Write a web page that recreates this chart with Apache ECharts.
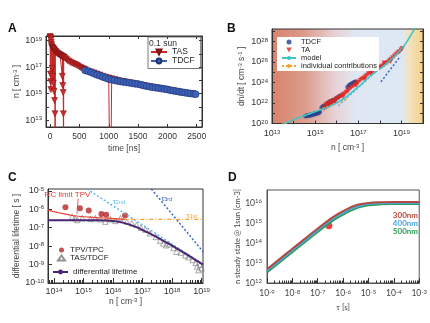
<!DOCTYPE html>
<html><head><meta charset="utf-8">
<script src="https://cdn.jsdelivr.net/npm/echarts@6/dist/echarts.min.js"></script>
<style>html,body{margin:0;padding:0;background:#fff}#c{width:430px;height:323px}</style>
</head><body><div id="c"></div>
<script>
// ================= Panel A : n vs time =================
const tasTime = [0,3,5,7,9,11,13,15,18,22,26,30,33,36,40,44,48,52,56,60,64,68,72,76,80,83,86,89,95,100,110,120,130,140,150,160,170,180,190,200,204,208,212,216,220,223,226,229,232,240,260,280,300,325,350,375,400,425,450,475,500,525,550,575,600,650,700,750,800,850,900,950,1000,1025,1050,1100,1150,1200,1250,1300,1350,1400,1450,1500,1550,1600,1650,1700,1750,1800,1850,1900,1950,2000,2050,2100,2150,2200,2250,2300,2350,2400];
const tasN = [2e19,1.8e19,3e16,1.6e19,8e15,1.3e19,2e15,1.1e19,7e18,5e18,4e18,3.2e18,8e16,3e18,2.8e18,2e16,2.6e18,2.4e18,6e15,2.2e18,2.1e18,1.5e15,1.9e18,3e14,1.7e18,3e13,1e5,1.5e18,1.4e18,1.3e18,1.2e18,1.1e18,1e18,9.5e17,9e17,8.5e17,8e17,7.5e17,7e17,6.5e17,6.2e17,2e16,6e17,4e15,5.8e17,1.2e15,3e13,1e5,5.5e17,5.2e17,4.5e17,3.7e17,3e17,2.6e17,2.2e17,1.95e17,1.75e17,1.55e17,1.4e17,1.2e17,1e17,8.8e16,7.8e16,7e16,6.3e16,5e16,4.3e16,3.6e16,3e16,2.5e16,2e16,1.7e16,1.5e16,1e5,1.3e16,1.15e16,1e16,9e15,8e15,7.2e15,6.6e15,6e15,5.3e15,4.8e15,4.4e15,4e15,3.6e15,3.3e15,3e15,2.7e15,2.5e15,2.3e15,2.1e15,1.9e15,1.75e15,1.6e15,1.45e15,1.2e15,1.2e15,1.1e15,1e15,9.5e14];
const tdcfTime = [600,650,700,750,800,850,900,950,1000,1050,1100,1150,1200,1250,1300,1350,1400,1450,1500,1550,1600,1650,1700,1750,1800,1850,1900,1950,2000,2050,2100,2150,2200,2250,2300,2350,2400,2450,2480];
const tdcfN = [5.6e16,4.8e16,4e16,3.2e16,2.6e16,2.2e16,1.8e16,1.5e16,1.25e16,1.1e16,1e16,9e15,8.3e15,7.6e15,7e15,6.5e15,6e15,5.5e15,5.2e15,4.6e15,4e15,3.6e15,3.3e15,3e15,2.8e15,2.6e15,2.4e15,2.2e15,2.05e15,1.8e15,1.66e15,1.5e15,1.4e15,1.28e15,1.17e15,1.08e15,1e15,9.5e14,9e14];
const timeTicks = [0,500,1000,1500,2000,2500];
const aDecades = [1e13,1e14,1e15,1e16,1e17,1e18,1e19];
const aLabels = [1e13,1e15,1e17,1e19];

// ================= Panel B : dn/dt vs n  ([log10 n, log10 dn/dt]) =================
const bTdcfLog = [[14.55,20.7],[14.62,20.8],[14.68,20.72],[14.74,20.85],[14.8,20.78],[14.86,20.92],[14.92,20.85],[14.98,21.0],[15.04,20.92],[15.1,21.08],[15.16,21.0],[15.22,21.15],[15.3,21.55],[15.38,21.7],[15.45,21.62],[15.52,21.85],[15.58,21.95],[15.64,22.1],[15.7,21.98],[15.76,22.2],[15.82,22.3],[15.9,22.25],[15.98,22.45],[16.06,22.55],[16.15,22.7],[16.5,23.55],[16.58,23.75],[16.66,23.85],[16.74,23.95],[16.82,24.05],[16.9,24.1]];
const bTaLog = [[15.42,21.45],[15.48,21.8],[15.52,21.6],[15.58,21.95],[15.62,21.7],[15.68,21.9],[15.72,22.15],[15.78,21.95],[15.84,22.2],[15.9,22.05],[15.96,22.35],[16.04,22.45],[16.12,22.55],[16.2,22.65],[16.28,22.8],[16.36,22.9],[16.44,23.05],[16.52,23.15],[16.6,23.35],[16.68,23.5],[16.76,23.6],[16.84,23.75],[16.92,23.9],[17.0,24.0],[17.08,24.2],[17.16,24.3],[17.24,24.4],[17.32,24.55],[17.4,24.7],[17.48,24.85],[17.56,24.95],[17.64,25.05],[17.72,25.15],[17.8,25.25],[17.88,25.3],[17.96,25.45],[18.04,25.5],[18.12,25.6],[18.2,25.72],[18.28,25.85],[18.36,25.95],[18.44,26.1],[18.52,26.25],[18.6,26.4],[18.68,26.58],[18.76,26.75],[18.84,26.9],[18.92,27.0],[18.98,27.15],[19.04,27.3],[17.3,24.3],[17.6,24.8],[18.2,25.9],[18.5,26.05],[16.3,22.6],[16.9,23.7]];
const bModelLog = [[13.55,19.95],[14.0,20.35],[14.4,20.7],[14.8,21.0],[15.2,21.3],[15.6,21.6],[16.0,22.0],[16.4,22.55],[16.8,23.2],[17.15,23.85],[17.6,24.7],[18.08,25.45],[18.5,26.2],[18.84,26.9],[19.2,27.8],[19.55,29.0],[19.7,29.5]];
const bFirstLog = [[13.45,19.9],[16.5,22.4]];
const bSecondLog = [[16.07,21.72],[17.9,25.2]];
const bThirdLog = [[18.05,24.05],[18.95,26.55]];
const bXDecades = [1e13,1e14,1e15,1e16,1e17,1e18,1e19,1e20];
const bXLabels = [1e13,1e15,1e17,1e19];
const bYDecades = [1e20,1e21,1e22,1e23,1e24,1e25,1e26,1e27,1e28,1e29];
const bYLabels = [1e20,1e22,1e24,1e26,1e28];

// ================= Panel C : differential lifetime vs n ([log10 n, log10 tau]) =================
const cTau2Log = [[15.12,-4.9],[19.05,-8.98]];
const cTau3Log = [[17.3,-4.9],[19.05,-8.3]];
const cTau1Log = [[15.4,-6.55],[19.05,-6.55]];
const cDiffLog = [[13.8,-6.6],[15.5,-6.6],[16.0,-6.63],[16.4,-6.75],[16.8,-6.97],[17.1,-7.2],[17.5,-7.52],[18.0,-7.97],[18.5,-8.45],[19.05,-9.0]];
const cRcLog = [[13.8,-6.05],[14.2,-6.2],[14.67,-6.35],[15.2,-6.43],[15.8,-6.48],[16.4,-6.55]];
const cTpvLog = [[14.39,-5.89],[14.88,-5.94],[15.18,-6.07],[15.61,-6.25],[15.77,-6.3],[16.41,-6.34]];
const cTasLog = [[14.62,-6.4],[14.71,-6.48],[14.79,-6.58],[14.96,-6.48],[15.24,-6.52],[15.4,-6.48],[15.57,-6.54],[15.74,-6.67],[15.91,-6.54],[16.08,-6.63],[16.25,-6.48],[16.47,-6.67],[16.64,-6.76],[16.8,-6.85],[16.95,-7.0],[17.1,-7.1],[17.25,-7.3],[17.45,-7.5],[17.6,-7.7],[17.7,-7.85],[17.8,-7.95],[17.9,-7.9],[18.05,-8.1],[18.15,-8.3],[18.3,-8.35],[18.45,-8.5],[18.55,-8.6],[18.7,-8.75],[18.8,-8.9],[18.85,-9.1],[18.95,-9.0],[19.0,-9.2],[18.9,-9.3]];
const cXLabels = [1e14,1e15,1e16,1e17,1e18,1e19];
const cYLabels = [1e-10,1e-9,1e-8,1e-7,1e-6,1e-5];

// ================= Panel D : steady-state n vs tau ([log10 tau, log10 n]) =================
const d300Log = [[-9,12.69],[-8,13.71],[-7,14.72],[-6.5,15.2],[-6.2,15.45],[-5.9,15.65],[-5.6,15.83],[-5.3,15.94],[-5.0,16.0],[-4.5,16.03],[-4,16.04],[-3,16.04]];
const d400Log = [[-9,12.61],[-8,13.63],[-7,14.64],[-6.5,15.12],[-6.2,15.37],[-5.9,15.57],[-5.6,15.75],[-5.3,15.87],[-5.0,15.94],[-4.5,15.98],[-4,15.99],[-3,15.99]];
const d500Log = [[-9,12.52],[-8,13.54],[-7,14.55],[-6.5,15.03],[-6.2,15.28],[-5.9,15.48],[-5.6,15.66],[-5.3,15.8],[-5.0,15.88],[-4.5,15.93],[-4,15.95],[-3,15.95]];
const dPointLog = [[-6.56,14.86]];
const dXLabels = [1e-9,1e-8,1e-7,1e-6,1e-5,1e-4,1e-3];
const dYLabels = [1e12,1e13,1e14,1e15,1e16];

// ---------- helpers ----------
const P = a => a.map(([x, y]) => [Math.pow(10, x), Math.pow(10, y)]);
const zip = (a, b) => a.map((v, i) => [v, b[i]]);
const minorTicks = (k0, k1, lo, hi) => { const r = []; for (let k = k0; k <= k1; k++) for (let m = 2; m <= 9; m++) { const v = m * Math.pow(10, k); if (v > lo && v < hi) r.push(v); } return r; };
const FONT = 'Liberation Sans';
const DOWN = 'path://M0,0 L10,0 L5,9 Z';
const supLabel = v => '{b|10}{s|' + Math.round(Math.log10(v)) + '}';
const rich = (fs, fam, col) => ({ b: { fontSize: fs, fontFamily: fam, color: col || '#333' }, s: { fontSize: Math.round(fs * 0.68), fontFamily: fam, color: col || '#333', verticalAlign: 'top' } });
const nameRich = (fs) => ({ s: { fontSize: Math.round(fs * 0.7), fontFamily: FONT, color: '#444', verticalAlign: 'top' } });
const line = { show: true, onZero: false, lineStyle: { color: '#333', width: 1 } };

const chart = echarts.init(document.getElementById('c'), null, { renderer: 'canvas' });

const gradB = new echarts.graphic.LinearGradient(0, 0, 1, 0, [
  { offset: 0, color: '#d9826c' }, { offset: 0.22, color: '#dc9c8c' }, { offset: 0.42, color: '#e7d2d6' },
  { offset: 0.55, color: '#dfe7f2' }, { offset: 0.86, color: '#dde8f4' }, { offset: 0.9, color: '#f1e3c4' }, { offset: 1, color: '#f6d184' }]);

const option = {
  animation: false,
  textStyle: { fontFamily: FONT },
  title: [
    { text: 'A', left: 3, top: 18, textStyle: { fontSize: 12, fontWeight: 'bold', color: '#111' } },
    { text: 'B', left: 222, top: 18, textStyle: { fontSize: 12, fontWeight: 'bold', color: '#111' } },
    { text: 'C', left: 3, top: 167, textStyle: { fontSize: 12, fontWeight: 'bold', color: '#111' } },
    { text: 'D', left: 223, top: 167, textStyle: { fontSize: 12, fontWeight: 'bold', color: '#111' } },
    { text: '0.1 sun', left: 149, top: 39, padding: 0, textStyle: { fontSize: 8.5, fontWeight: 'normal', color: '#333' } }
  ],
  grid: [
    { left: 46, top: 36, width: 156, height: 91, show: true, borderColor: '#333', borderWidth: 1 },
    { left: 272, top: 29, width: 151, height: 94.5, show: true, borderColor: '#333', borderWidth: 1, backgroundColor: gradB },
    { left: 48, top: 189, width: 155, height: 94, show: true, borderColor: '#333', borderWidth: 1 },
    { left: 267, top: 190, width: 155, height: 93, show: true, borderColor: '#555', borderWidth: 1 }
  ],
  legend: [
    { data: ['TAS', 'TDCF'], left: 148, top: 37, orient: 'vertical', padding: [10.5, 6, 3, 2], itemGap: 0, itemWidth: 16, itemHeight: 6,
      borderColor: '#555', borderWidth: 0.8, textStyle: { fontSize: 8.5, lineHeight: 8.5, color: '#222' } },
    { data: ['TDCF ', 'TA', 'model', 'individual contributions'], left: 277, top: 37, orient: 'vertical', padding: [1, 2, 1, 4], itemGap: 0,
      itemWidth: 14, itemHeight: 5, backgroundColor: '#fff', textStyle: { fontSize: 7.5, lineHeight: 7, color: '#222' } },
    { data: ['TPV/TPC', 'TAS/TDCF'], left: 57, top: 246, orient: 'vertical', itemGap: 0, itemWidth: 7, itemHeight: 5, padding: 0,
      textStyle: { fontSize: 8, lineHeight: 7.5, color: '#222' } },
    { data: ['differential lifetime'], left: 52, top: 268, itemWidth: 15, itemHeight: 6, padding: 0, textStyle: { fontSize: 8, color: '#222' } },
    { data: [{ name: '300nm', textStyle: { color: '#b44a3f' } }, { name: '400nm', textStyle: { color: '#4aa6e2' } }, { name: '500nm', textStyle: { color: '#2c9c55' } }],
      right: 12, top: 211, orient: 'vertical', itemGap: 0, itemWidth: 0, itemHeight: 0, padding: 0,
      textStyle: { fontSize: 8, lineHeight: 7.6, fontWeight: 'bold', fontFamily: 'Lato' } }
  ],
  xAxis: [
    // 0 A bottom
    { gridIndex: 0, type: 'value', min: -70, max: 2590, position: 'bottom', axisLine: line, splitLine: { show: false },
      axisTick: { inside: true, length: 3, customValues: timeTicks, lineStyle: { color: '#333' } },
      axisLabel: { customValues: timeTicks, formatter: v => String(v), fontSize: 8.5, color: '#333', margin: 5 },
      name: 'time [ns]', nameLocation: 'middle', nameGap: 17, nameTextStyle: { fontSize: 8.5, color: '#444' } },
    // 1 A top
    { gridIndex: 0, type: 'value', min: -70, max: 2590, position: 'top', axisLine: line, splitLine: { show: false },
      axisTick: { inside: true, length: 3, customValues: timeTicks, lineStyle: { color: '#333' } }, axisLabel: { show: false } },
    // 2 B bottom
    { gridIndex: 1, type: 'log', min: 1e13, max: 1e20, position: 'bottom', axisLine: line, splitLine: { show: false },
      axisTick: { inside: true, length: 3, customValues: bXDecades, lineStyle: { color: '#333' } },
      axisLabel: { customValues: bXLabels, formatter: supLabel, rich: rich(9, FONT), margin: 6 },
      name: 'n [ cm{s|-3} ]', nameLocation: 'middle', nameGap: 20, nameTextStyle: { fontSize: 8.5, color: '#444', rich: nameRich(8.5) } },
    // 3 C bottom main
    { gridIndex: 2, type: 'log', min: 6.3e13, max: 1.12e19, position: 'bottom', axisLine: line, splitLine: { show: false },
      axisTick: { inside: true, length: 5, customValues: cXLabels, lineStyle: { color: '#333' } },
      axisLabel: { customValues: cXLabels, formatter: supLabel, rich: rich(9, FONT), margin: 4 },
      name: 'n [ cm{s|-3} ]', nameLocation: 'middle', nameGap: 12, nameTextStyle: { fontSize: 8.5, color: '#444', rich: nameRich(8.5) } },
    // 4 C bottom minor
    { gridIndex: 2, type: 'log', min: 6.3e13, max: 1.12e19, position: 'bottom', axisLine: { show: false, onZero: false }, splitLine: { show: false },
      axisTick: { inside: true, length: 3, customValues: minorTicks(13, 18, 6.3e13, 1.12e19), lineStyle: { color: '#333' } }, axisLabel: { show: false } },
    // 5 D bottom main
    { gridIndex: 3, type: 'log', min: 1e-9, max: 1e-3, position: 'bottom', axisLine: { show: true, onZero: false, lineStyle: { color: '#555' } }, splitLine: { show: false },
      axisTick: { inside: true, length: 5, customValues: dXLabels, lineStyle: { color: '#333' } },
      axisLabel: { customValues: dXLabels, formatter: supLabel, rich: rich(8.5, 'Lato', '#444'), margin: 6 },
      name: 'τ [s]', nameLocation: 'middle', nameGap: 20, nameTextStyle: { fontSize: 8, color: '#444', fontFamily: 'Lato' } },
    // 6 D bottom minor
    { gridIndex: 3, type: 'log', min: 1e-9, max: 1e-3, position: 'bottom', axisLine: { show: false, onZero: false }, splitLine: { show: false },
      axisTick: { inside: true, length: 2.5, customValues: minorTicks(-9, -4, 1e-9, 1e-3), lineStyle: { color: '#333' } }, axisLabel: { show: false } }
  ],
  yAxis: [
    // 0 A left
    { gridIndex: 0, type: 'log', min: 3e12, max: 2.2e19, position: 'left', axisLine: line, splitLine: { show: false },
      axisTick: { inside: true, length: 3, customValues: aDecades, lineStyle: { color: '#333' } },
      axisLabel: { customValues: aLabels, formatter: supLabel, rich: rich(9, FONT), margin: 4 },
      name: 'n [ cm{s|-3} ]', nameLocation: 'middle', nameGap: 23, nameTextStyle: { fontSize: 8.5, color: '#444', rich: nameRich(8.5) } },
    // 1 A right
    { gridIndex: 0, type: 'log', min: 3e12, max: 2.2e19, position: 'right', axisLine: line, splitLine: { show: false },
      axisTick: { inside: true, length: 3, customValues: aDecades, lineStyle: { color: '#333' } }, axisLabel: { show: false } },
    // 2 B left
    { gridIndex: 1, type: 'log', min: 1e20, max: 1.6e29, position: 'left', axisLine: line, splitLine: { show: false },
      axisTick: { inside: true, length: 3, customValues: bYDecades, lineStyle: { color: '#333' } },
      axisLabel: { customValues: bYLabels, formatter: supLabel, rich: rich(9, FONT), margin: 4 },
      name: 'dn/dt [ cm{s|-3} s{s|-1} ]', nameLocation: 'middle', nameGap: 26, nameTextStyle: { fontSize: 8.5, color: '#444', rich: nameRich(8.5) } },
    // 3 B right
    { gridIndex: 1, type: 'log', min: 1e20, max: 1.6e29, position: 'right', axisLine: line, splitLine: { show: false },
      axisTick: { inside: true, length: 3, customValues: bYDecades, lineStyle: { color: '#333' } }, axisLabel: { show: false } },
    // 4 C left
    { gridIndex: 2, type: 'log', min: 1e-10, max: 1.26e-5, position: 'left', axisLine: line, splitLine: { show: false },
      axisTick: { inside: true, length: 4, customValues: cYLabels, lineStyle: { color: '#333' } },
      axisLabel: { customValues: cYLabels, formatter: supLabel, rich: rich(9, FONT), margin: 4 },
      name: 'differential lifetime [ s ]', nameLocation: 'middle', nameGap: 23, nameTextStyle: { fontSize: 8.5, color: '#444' } },
    // 5 D left
    { gridIndex: 3, type: 'log', min: 1e12, max: 4.4e16, position: 'left', axisLine: { show: true, onZero: false, lineStyle: { color: '#555' } }, splitLine: { show: false },
      axisTick: { show: false },
      axisLabel: { customValues: dYLabels, formatter: supLabel, rich: rich(8.5, 'Lato', '#444'), margin: 5 },
      name: 'n steady state @ 1sun [cm-3]', nameLocation: 'middle', nameGap: 17, nameTextStyle: { fontSize: 7.5, color: '#444', fontFamily: 'Lato' } }
  ],
  series: [
    // ---- A
    { name: 'TAS', type: 'line', xAxisIndex: 0, yAxisIndex: 0, data: zip(tasTime, tasN), symbol: DOWN, symbolSize: [6, 6],
      lineStyle: { color: '#c62828', width: 1 }, itemStyle: { color: '#d22a2a', borderColor: '#7a1010', borderWidth: 0.5 }, clip: true },
    { name: 'TDCF', type: 'line', xAxisIndex: 0, yAxisIndex: 0, data: zip(tdcfTime, tdcfN), symbol: 'circle', symbolSize: 7,
      lineStyle: { color: '#3c5fb4', width: 1 }, itemStyle: { color: '#3d62b8', borderColor: '#1d3272', borderWidth: 0.6 }, clip: true },
    // ---- B
    { name: 'individual contributions', type: 'line', xAxisIndex: 2, yAxisIndex: 2, data: P(bFirstLog), symbol: 'none', lineStyle: { color: '#f4a52a', width: 1.5, type: [2, 2] }, itemStyle: { color: '#f4a52a' } },
    { name: 'second order', type: 'line', xAxisIndex: 2, yAxisIndex: 2, data: P(bSecondLog), symbol: 'none', lineStyle: { color: '#5ab8ec', width: 1.5, type: [2, 2] } },
    { name: 'third order', type: 'line', xAxisIndex: 2, yAxisIndex: 2, data: P(bThirdLog), symbol: 'none', lineStyle: { color: '#3b62c9', width: 1.5, type: [2, 2] } },
    { name: 'TDCF ', type: 'scatter', xAxisIndex: 2, yAxisIndex: 2, data: P(bTdcfLog), symbol: 'circle', symbolSize: 4.5, itemStyle: { color: '#263f8e' } },
    { name: 'TA', type: 'scatter', xAxisIndex: 2, yAxisIndex: 2, data: P(bTaLog), symbol: DOWN, symbolSize: [5, 5], itemStyle: { color: '#e0241f' } },
    { name: 'model', type: 'line', xAxisIndex: 2, yAxisIndex: 2, data: P(bModelLog), symbol: 'none', smooth: 0.3, lineStyle: { color: '#3cc4c8', width: 1.5 }, itemStyle: { color: '#3cc4c8' } },
    // ---- C
    { name: 'tau2', type: 'line', xAxisIndex: 3, yAxisIndex: 4, data: P(cTau2Log), symbol: 'none', lineStyle: { color: '#5ab8ea', width: 1.5, type: [2, 2] },
      markPoint: { symbol: 'circle', symbolSize: 0, silent: true, data: [{ coord: [Math.pow(10, 16.2), Math.pow(10, -5.6)] }],
        label: { show: true, position: 'inside', formatter: '{tt|τ}{sub|2nd}', rich: { tt: { fontSize: 8, color: '#5ab8ea' }, sub: { fontSize: 5.5, color: '#5ab8ea', verticalAlign: 'bottom' } } } } },
    { name: 'tau3', type: 'line', xAxisIndex: 3, yAxisIndex: 4, data: P(cTau3Log), symbol: 'none', lineStyle: { color: '#3c64c8', width: 1.5, type: [2, 2] },
      markPoint: { symbol: 'circle', symbolSize: 0, silent: true, data: [{ coord: [Math.pow(10, 17.82), Math.pow(10, -5.43)] }],
        label: { show: true, position: 'inside', formatter: '{tt|τ}{sub|3rd}', rich: { tt: { fontSize: 8, color: '#3c64c8' }, sub: { fontSize: 5.5, color: '#3c64c8', verticalAlign: 'bottom' } } } } },
    { name: 'tau1', type: 'line', xAxisIndex: 3, yAxisIndex: 4, data: P(cTau1Log), symbol: 'none', lineStyle: { color: '#f5a12d', width: 1.3, type: [4, 2, 1, 2] },
      markPoint: { symbol: 'circle', symbolSize: 0, silent: true, data: [{ coord: [Math.pow(10, 18.67), Math.pow(10, -6.36)] }],
        label: { show: true, position: 'inside', formatter: '{tt|τ}{sub|1st}', rich: { tt: { fontSize: 8, color: '#f5a12d' }, sub: { fontSize: 5.5, color: '#f5a12d', verticalAlign: 'bottom' } } } } },
    { name: 'RC limit TPV', type: 'line', xAxisIndex: 3, yAxisIndex: 4, data: P(cRcLog), symbol: 'none', smooth: 0.3, lineStyle: { color: '#e8463c', width: 1.2 },
      markPoint: { symbol: 'circle', symbolSize: 0, silent: true, data: [{ coord: [Math.pow(10, 14.46), Math.pow(10, -5.22)] }],
        label: { show: true, position: 'inside', formatter: 'RC limit TPV', fontSize: 8, color: '#e03c31' } },
      markLine: { silent: true, symbol: ['none', 'arrow'], symbolSize: [0, 5], label: { show: false }, lineStyle: { color: '#e03c31', type: 'solid', width: 0.8 },
        data: [[{ coord: [Math.pow(10, 14.82), Math.pow(10, -5.42)] }, { coord: [Math.pow(10, 14.78), Math.pow(10, -6.25)] }]] } },
    { name: 'differential lifetime', type: 'line', xAxisIndex: 3, yAxisIndex: 4, data: P(cDiffLog), symbol: 'none', smooth: 0.3, lineStyle: { color: '#4a2673', width: 2 }, itemStyle: { color: '#4a2673' } },
    { name: 'TAS/TDCF', type: 'scatter', xAxisIndex: 3, yAxisIndex: 4, data: P(cTasLog), symbol: 'triangle', symbolSize: 5.5,
      itemStyle: { color: 'rgba(255,255,255,0)', borderColor: '#777', borderWidth: 0.8 } },
    { name: 'TPV/TPC', type: 'scatter', xAxisIndex: 3, yAxisIndex: 4, data: P(cTpvLog), symbol: 'circle', symbolSize: 6, itemStyle: { color: '#b82325' } },
    // ---- D
    { name: '500nm', type: 'line', xAxisIndex: 5, yAxisIndex: 5, data: P(d500Log), symbol: 'none', smooth: 0.4, lineStyle: { color: '#2c9c55', width: 2 }, itemStyle: { color: '#2c9c55' } },
    { name: '400nm', type: 'line', xAxisIndex: 5, yAxisIndex: 5, data: P(d400Log), symbol: 'none', smooth: 0.4, lineStyle: { color: '#4aa6e2', width: 2 }, itemStyle: { color: '#4aa6e2' } },
    { name: '300nm', type: 'line', xAxisIndex: 5, yAxisIndex: 5, data: P(d300Log), symbol: 'none', smooth: 0.4, lineStyle: { color: '#b44a3f', width: 2 }, itemStyle: { color: '#b44a3f' } },
    { name: 'measured', type: 'scatter', xAxisIndex: 5, yAxisIndex: 5, data: P(dPointLog), symbol: 'circle', symbolSize: 7, itemStyle: { color: '#e8141c' } }
  ]
};
chart.setOption(option);
</script>
</body></html>
